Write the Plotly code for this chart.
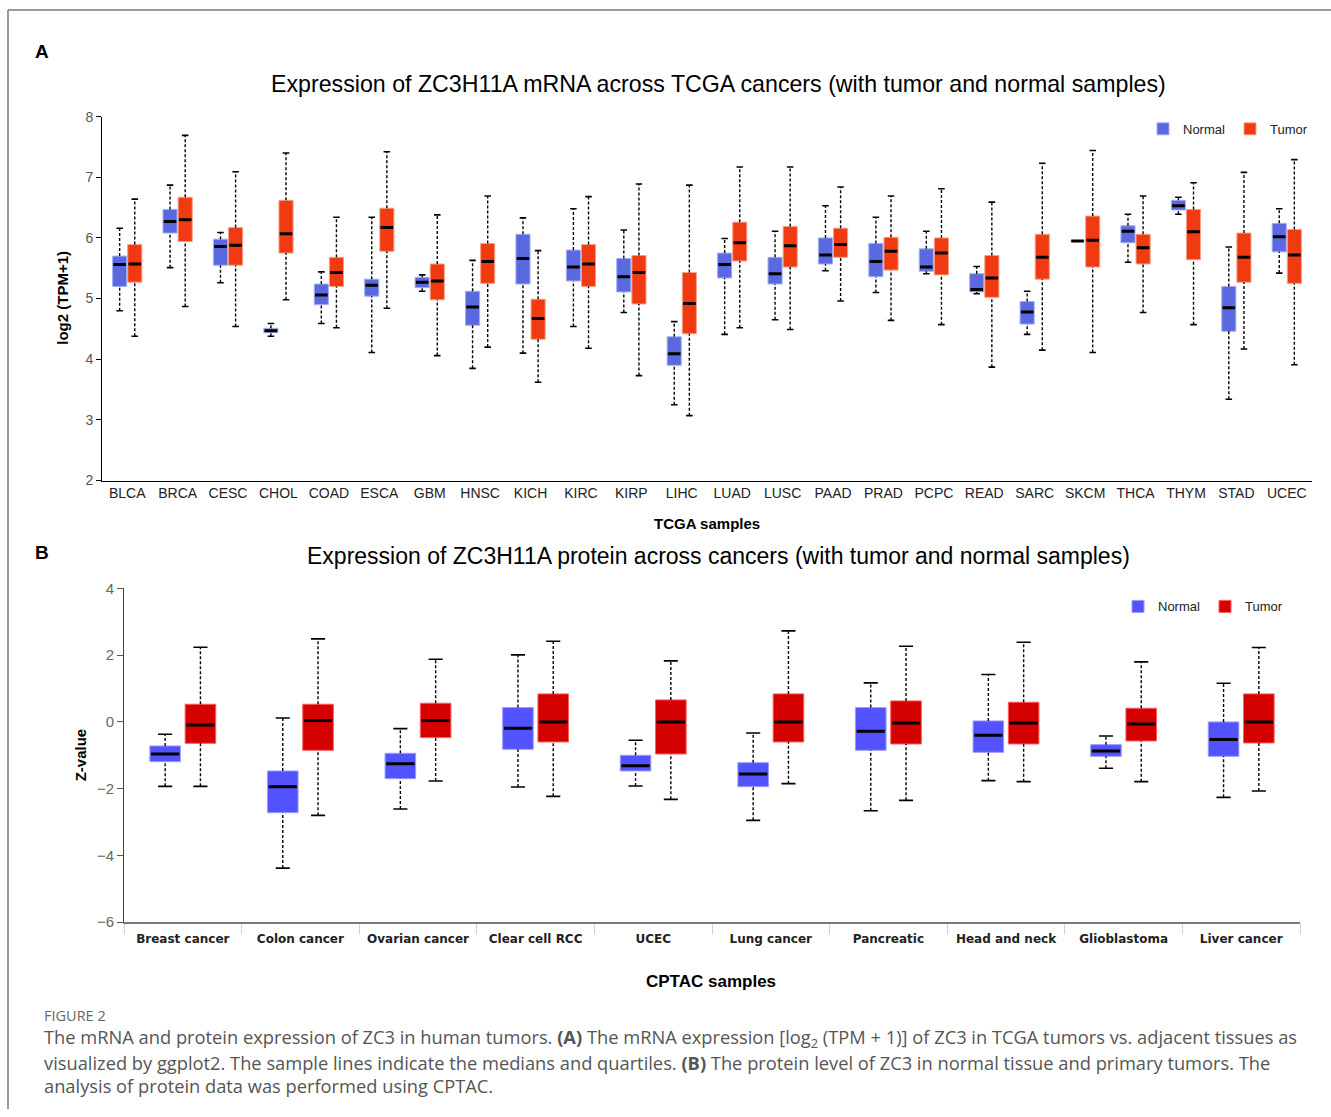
import plotly.graph_objects as go

W = 1331
H_FIG = 1117
# the captured page shows the figure 8 px lower and slightly compressed vertically;
# compensate so reference pixel rows line up
Y_OFF = 8
Y_SCALE = 0.9857

# ---------------- Panel A data (TCGA, log2(TPM+1)) ----------------
tcga_cats = ["BLCA", "BRCA", "CESC", "CHOL", "COAD", "ESCA", "GBM", "HNSC", "KICH", "KIRC",
             "KIRP", "LIHC", "LUAD", "LUSC", "PAAD", "PRAD", "PCPC", "READ", "SARC", "SKCM",
             "THCA", "THYM", "STAD", "UCEC"]
tcga_normal_low = [4.80, 5.51, 5.26, 4.38, 4.59, 4.11, 5.12, 3.85, 4.10, 4.54, 4.77, 3.25,
                   4.41, 4.65, 5.46, 5.10, 5.41, 5.08, 4.41, 5.95, 5.60, 6.39, 3.34, 5.42]
tcga_normal_q1 = [5.20, 6.08, 5.55, 4.44, 4.90, 5.04, 5.18, 4.56, 5.24, 5.29, 5.11, 3.90,
                  5.34, 5.24, 5.57, 5.36, 5.45, 5.11, 4.58, 5.95, 5.92, 6.46, 4.46, 5.77]
tcga_normal_med = [5.56, 6.27, 5.86, 4.47, 5.06, 5.22, 5.27, 4.86, 5.66, 5.52, 5.36, 4.09,
                   5.56, 5.41, 5.72, 5.61, 5.52, 5.15, 4.78, 5.95, 6.11, 6.53, 4.85, 6.02]
tcga_normal_q3 = [5.70, 6.47, 5.98, 4.51, 5.24, 5.32, 5.35, 5.12, 6.06, 5.80, 5.66, 4.37,
                  5.75, 5.68, 6.00, 5.91, 5.82, 5.41, 4.95, 5.95, 6.20, 6.62, 5.20, 6.24]
tcga_normal_high = [6.16, 6.87, 6.09, 4.59, 5.44, 6.34, 5.39, 5.63, 6.33, 6.48, 6.13, 4.62,
                    5.99, 6.11, 6.53, 6.34, 6.11, 5.53, 5.12, 5.95, 6.39, 6.67, 5.85, 6.48]

tcga_tumor_low = [4.38, 4.87, 4.54, 4.98, 4.52, 4.84, 4.06, 4.20, 3.62, 4.18, 3.73, 3.07,
                  4.52, 4.49, 4.96, 4.64, 4.57, 3.87, 4.15, 4.11, 4.77, 4.57, 4.17, 3.91]
tcga_tumor_q1 = [5.27, 5.94, 5.55, 5.75, 5.20, 5.78, 4.98, 5.25, 4.33, 5.20, 4.91, 4.42,
                 5.62, 5.52, 5.68, 5.47, 5.39, 5.02, 5.32, 5.52, 5.57, 5.64, 5.27, 5.25]
tcga_tumor_med = [5.57, 6.30, 5.88, 6.07, 5.43, 6.17, 5.29, 5.61, 4.67, 5.57, 5.43, 4.92,
                  5.92, 5.87, 5.89, 5.78, 5.75, 5.34, 5.68, 5.96, 5.84, 6.10, 5.68, 5.72]
tcga_tumor_q3 = [5.89, 6.67, 6.17, 6.62, 5.68, 6.49, 5.57, 5.91, 4.99, 5.89, 5.71, 5.43,
                 6.26, 6.19, 6.16, 6.01, 6.00, 5.71, 6.06, 6.36, 6.06, 6.47, 6.08, 6.14]
tcga_tumor_high = [6.64, 7.69, 7.09, 7.40, 6.34, 7.42, 6.38, 6.69, 5.79, 6.68, 6.89, 6.87,
                   7.17, 7.17, 6.84, 6.69, 6.81, 6.59, 7.23, 7.44, 6.69, 6.91, 7.08, 7.29]
tcga_yticks = [2, 3, 4, 5, 6, 7, 8]

# ---------------- Panel B data (CPTAC, Z-value) ----------------
cptac_cats = ["Breast cancer", "Colon cancer", "Ovarian cancer", "Clear cell RCC", "UCEC",
              "Lung cancer", "Pancreatic", "Head and neck", "Glioblastoma", "Liver cancer"]
cptac_normal_low = [-1.93, -4.38, -2.61, -1.95, -1.92, -2.95, -2.66, -1.76, -1.39, -2.26]
cptac_normal_q1 = [-1.19, -2.72, -1.70, -0.82, -1.47, -1.94, -0.85, -0.91, -1.03, -1.03]
cptac_normal_med = [-0.96, -1.94, -1.25, -0.19, -1.31, -1.56, -0.28, -0.40, -0.87, -0.53]
cptac_normal_q3 = [-0.72, -1.47, -0.94, 0.43, -1.00, -1.22, 0.43, 0.03, -0.68, 0.00]
cptac_normal_high = [-0.37, 0.12, -0.20, 2.01, -0.55, -0.33, 1.17, 1.42, -0.42, 1.16]

cptac_tumor_low = [-1.93, -2.80, -1.77, -2.23, -2.32, -1.85, -2.35, -1.79, -1.79, -2.07]
cptac_tumor_q1 = [-0.64, -0.85, -0.47, -0.60, -0.96, -0.60, -0.66, -0.66, -0.57, -0.63]
cptac_tumor_med = [-0.09, 0.04, 0.04, 0.00, 0.00, 0.00, -0.03, -0.03, -0.06, 0.00]
cptac_tumor_q3 = [0.53, 0.53, 0.56, 0.84, 0.66, 0.84, 0.63, 0.59, 0.41, 0.84]
cptac_tumor_high = [2.24, 2.49, 1.88, 2.42, 1.83, 2.73, 2.27, 2.39, 1.80, 2.23]
cptac_yticks = [-6, -4, -2, 0, 2, 4]


def px_x(p):
    return p / W


def px_y(p):
    fy = (p - Y_OFF) / Y_SCALE
    return min(1.0, max(0.0, 1 - fy / H_FIG))


fig = go.Figure()


def add_group(xa, ya, stats, offset, width, cap_w, med_w, fill, edge, name, legend, show):
    low, q1, med, q3, high = stats
    n = len(med)
    pos = [i + offset for i in range(n)]
    # box body
    fig.add_trace(go.Bar(
        x=pos, y=[b - a for a, b in zip(q1, q3)], base=q1, width=width,
        marker=dict(color=fill, line=dict(color=edge, width=1)),
        name=name, legend=legend, showlegend=show, xaxis=xa, yaxis=ya,
        hoverinfo="skip"))
    # dashed whiskers
    wx, wy = [], []
    for p, lo, a, b, hi in zip(pos, low, q1, q3, high):
        wx += [p, p, None, p, p, None]
        wy += [lo, a, None, b, hi, None]
    fig.add_trace(go.Scatter(x=wx, y=wy, mode="lines", xaxis=xa, yaxis=ya,
                             line=dict(color="black", width=1.4, dash="3px,2px"),
                             showlegend=False, hoverinfo="skip"))
    # caps
    cx, cy = [], []
    for p, lo, hi in zip(pos, low, high):
        cx += [p - cap_w / 2, p + cap_w / 2, None, p - cap_w / 2, p + cap_w / 2, None]
        cy += [lo, lo, None, hi, hi, None]
    fig.add_trace(go.Scatter(x=cx, y=cy, mode="lines", xaxis=xa, yaxis=ya,
                             line=dict(color="black", width=1.6),
                             showlegend=False, hoverinfo="skip"))
    # medians
    mx, my = [], []
    for p, m in zip(pos, med):
        mx += [p - med_w / 2, p + med_w / 2, None]
        my += [m, m, None]
    fig.add_trace(go.Scatter(x=mx, y=my, mode="lines", xaxis=xa, yaxis=ya,
                             line=dict(color="black", width=3),
                             showlegend=False, hoverinfo="skip"))


# Panel A
add_group("x", "y", (tcga_normal_low, tcga_normal_q1, tcga_normal_med, tcga_normal_q3, tcga_normal_high),
          -0.15, 0.28, 0.13, 0.25, "#5A69E0", "#A3AEF2", "Normal", "legend", True)
add_group("x", "y", (tcga_tumor_low, tcga_tumor_q1, tcga_tumor_med, tcga_tumor_q3, tcga_tumor_high),
          0.15, 0.28, 0.13, 0.25, "#F03A12", "#F8A088", "Tumor", "legend", True)
# Panel B
add_group("x2", "y2", (cptac_normal_low, cptac_normal_q1, cptac_normal_med, cptac_normal_q3, cptac_normal_high),
          -0.15, 0.26, 0.12, 0.24, "#5252FF", "#9A9AFF", "Normal", "legend2", True)
add_group("x2", "y2", (cptac_tumor_low, cptac_tumor_q1, cptac_tumor_med, cptac_tumor_q3, cptac_tumor_high),
          0.15, 0.26, 0.12, 0.24, "#D50000", "#FF5A5A", "Tumor", "legend2", True)

AX_A = dict(l=102, r=1312, t=115.7, b=480)
AX_B = dict(l=124, r=1300, t=588, b=922)

fig.update_layout(
    width=W, height=H_FIG, margin=dict(l=0, r=0, t=0, b=0),
    paper_bgcolor="white", plot_bgcolor="white",
    barmode="overlay",
    font=dict(family="Liberation Sans, Arial", color="#222"),
    xaxis=dict(domain=[px_x(AX_A["l"]), px_x(AX_A["r"])], anchor="y",
               range=[-0.5, len(tcga_cats) - 0.5],
               tickmode="array", tickvals=list(range(len(tcga_cats))), ticktext=tcga_cats,
               ticks="", showline=True, linecolor="black", linewidth=1,
               showgrid=False, zeroline=False,
               tickfont=dict(size=14, color="#222")),
    yaxis=dict(domain=[px_y(AX_A["b"]), px_y(AX_A["t"])], anchor="x",
               range=[2, 8], tickmode="array", tickvals=tcga_yticks,
               ticks="outside", ticklen=5, tickcolor="black",
               showline=True, linecolor="black", linewidth=1,
               showgrid=False, zeroline=False,
               tickfont=dict(size=14, color="#555")),
    xaxis2=dict(domain=[px_x(AX_B["l"]), px_x(AX_B["r"])], anchor="y2",
                range=[-0.5, len(cptac_cats) - 0.5],
                tickmode="array", tickvals=list(range(len(cptac_cats))),
                ticktext=["<b>" + c + "</b>" for c in cptac_cats],
                ticks="outside", ticklen=4, tickcolor="rgba(0,0,0,0)",
                showline=True, linecolor="#7a7a7a", linewidth=2,
                showgrid=False, zeroline=False,
                tickfont=dict(size=12, color="#222", family="DejaVu Sans"),
                minor=dict(tickmode="array",
                           tickvals=[i - 0.5 for i in range(len(cptac_cats) + 1)],
                           ticks="outside", ticklen=10, tickcolor="#C5D3E8", tickwidth=1)),
    yaxis2=dict(domain=[px_y(AX_B["b"]), px_y(AX_B["t"])], anchor="x2",
                range=[-6, 4], tickmode="array", tickvals=cptac_yticks,
                ticks="outside", ticklen=6, tickcolor="#555",
                showline=True, linecolor="#444", linewidth=1,
                showgrid=False, zeroline=False,
                tickfont=dict(size=15, color="#666")),
    legend=dict(x=px_x(1143), y=px_y(128), xanchor="left", yanchor="middle",
                orientation="h", font=dict(size=13, color="#222"),
                bgcolor="rgba(0,0,0,0)", itemwidth=30),
    legend2=dict(x=px_x(1118), y=px_y(606), xanchor="left", yanchor="middle",
                 orientation="h", font=dict(size=13, color="#222"),
                 bgcolor="rgba(0,0,0,0)", itemwidth=30),
)

ann = []
# panel letters
ann.append(dict(text="<b>A</b>", x=px_x(42), y=px_y(51), font=dict(size=19, color="black")))
ann.append(dict(text="<b>B</b>", x=px_x(42), y=px_y(552), font=dict(size=19, color="black")))
# titles
ann.append(dict(text="Expression of ZC3H11A mRNA across TCGA cancers (with tumor and normal samples)",
                x=px_x(719), y=px_y(83), font=dict(size=23.2, color="black")))
ann.append(dict(text="Expression of ZC3H11A protein across cancers (with tumor and normal samples)",
                x=px_x(719), y=px_y(556), font=dict(size=23, color="black")))
# axis titles
ann.append(dict(text="<b>log2 (TPM+1)</b>", x=px_x(63), y=px_y(297), textangle=-90,
                font=dict(size=15, color="black")))
ann.append(dict(text="<b>TCGA samples</b>", x=px_x(707), y=px_y(523),
                font=dict(size=15, color="black")))
ann.append(dict(text="<b>Z-value</b>", x=px_x(80), y=px_y(755), textangle=-90,
                font=dict(size=15, color="black")))
ann.append(dict(text="<b>CPTAC samples</b>", x=px_x(711), y=px_y(981),
                font=dict(size=17, color="black")))
# caption
cap_font = "Open Sans, Noto Sans"
ann.append(dict(text="FIGURE 2", x=px_x(42), y=px_y(1015), xanchor="left",
                font=dict(size=14.5, color="#666", family=cap_font)))
cap_lines = [
    "The mRNA and protein expression of ZC3 in human tumors. <b>(A)</b> The mRNA expression "
    "[log<sub>2</sub> (TPM + 1)] of ZC3 in TCGA tumors vs. adjacent tissues as",
    "visualized by ggplot2. The sample lines indicate the medians and quartiles. <b>(B)</b> "
    "The protein level of ZC3 in normal tissue and primary tumors. The",
    "analysis of protein data was performed using CPTAC.",
]
for k, line in enumerate(cap_lines):
    ann.append(dict(text=line, x=px_x(42), y=px_y(1038 + 24 * k), xanchor="left",
                    font=dict(size=18.3, color="#555", family=cap_font)))

for a in ann:
    a.setdefault("xanchor", "center")
    a.update(xref="paper", yref="paper", yanchor="middle", showarrow=False)
fig.update_layout(annotations=ann)

# outer frame lines
fig.add_shape(type="line", xref="paper", yref="paper", x0=px_x(8), x1=1, y0=px_y(9), y1=px_y(9),
              line=dict(color="#9a9a9a", width=2))
fig.add_shape(type="line", xref="paper", yref="paper", x0=px_x(8), x1=px_x(8), y0=px_y(9), y1=0,
              line=dict(color="#9a9a9a", width=2))

fig.write_html(
    "out.html",
    config={"displayModeBar": False},
    post_script=(
        "document.documentElement.style.margin='0';"
        "document.documentElement.style.padding='0';"
        "document.documentElement.style.overflow='hidden';"
        "document.body.style.margin='0';"
        "document.body.style.padding='0';"
        "document.body.style.overflow='hidden';"
    ),
)
